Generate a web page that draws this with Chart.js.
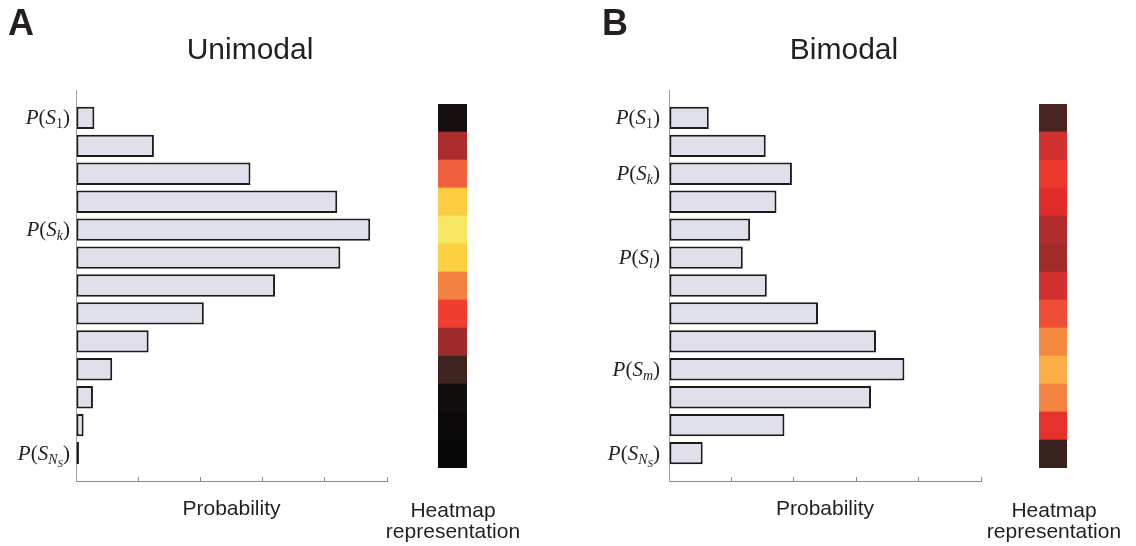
<!DOCTYPE html>
<html>
<head>
<meta charset="utf-8">
<script src="https://cdn.jsdelivr.net/npm/chart.js@4/dist/chart.umd.min.js"></script>
<style>
  html, body { margin: 0; padding: 0; background: #ffffff; }
  #wrap { position: relative; width: 1136px; height: 546px; overflow: hidden; background: #ffffff; }
  #wrap canvas { position: absolute; }
  .lbl { position: absolute; font-family: "Liberation Sans", Arial, sans-serif; color: #231f20; white-space: nowrap; }
  .panel { font-weight: bold; font-size: 36px; line-height: 36px; }
  .cap { font-size: 21px; line-height: 21px; text-align: center; width: 200px; }
</style>
</head>
<body>
<div id="wrap">
  <canvas id="barsA" width="500" height="546" style="left:0px;top:0px;"></canvas>
  <canvas id="heatA" width="29" height="364" style="left:438px;top:104px;"></canvas>
  <canvas id="barsB" width="488" height="546" style="left:600px;top:0px;"></canvas>
  <canvas id="heatB" width="28" height="364" style="left:1039px;top:104px;"></canvas>
  <div class="lbl panel" style="left:8px;top:5px;">A</div>
  <div class="lbl panel" style="left:602px;top:5px;">B</div>
  <div class="lbl cap" style="left:353px;top:499px;">Heatmap<br>representation</div>
  <div class="lbl cap" style="left:954px;top:499px;">Heatmap<br>representation</div>
</div>
<script>
// ---------- data ----------
const statesA = ['S1','S2','S3','S4','S5','S6','S7','S8','S9','S10','S11','S12','S13'];
const statesB = ['S1','S2','S3','S4','S5','S6','S7','S8','S9','S10','S11','S12','S13'];
const probA = [0.0118, 0.0501, 0.1122, 0.168, 0.1892, 0.170, 0.128, 0.0822, 0.0467, 0.0233, 0.0109, 0.0049, 0.0019];
const probB = [0.0255, 0.062, 0.0788, 0.0689, 0.052, 0.0473, 0.0627, 0.0955, 0.1327, 0.1509, 0.1295, 0.074, 0.0216];
const tickLabelsA = ['P(S_1)', '', '', '', 'P(S_k)', '', '', '', '', '', '', '', 'P(S_{N_S})'];
const tickLabelsB = ['P(S_1)', '', 'P(S_k)', '', '', 'P(S_l)', '', '', '', 'P(S_m)', '', '', 'P(S_{N_S})'];
const titleA = 'Unimodal';
const titleB = 'Bimodal';
const xTitle = 'Probability';
const probTicks = [0, 0.04, 0.08, 0.12, 0.16, 0.2];
// colormap (probability -> colour) used for the heatmap column
const heatStops = [
  [0.000, '#050506'], [0.011, '#120e0e'], [0.023, '#3e2420'], [0.047, '#a12b2c'],
  [0.062, '#d0302e'], [0.070, '#e22c2a'], [0.082, '#ef3e30'], [0.112, '#f0603d'],
  [0.130, '#f38542'], [0.151, '#fbae45'], [0.169, '#fdcf41'], [0.190, '#f7e760']
];

// ---------- helpers ----------
const SANS = '"Liberation Sans", Arial, sans-serif';
const SERIF = '"Liberation Serif", "Times New Roman", serif';
const INK = '#231f20';

function hexToRgb(h) { return [1,3,5].map(i => parseInt(h.slice(i, i + 2), 16)); }
function heatColor(p) {
  if (p <= heatStops[0][0]) return heatStops[0][1];
  for (let i = 1; i < heatStops.length; i++) {
    if (p <= heatStops[i][0]) {
      const [p0, c0] = heatStops[i - 1], [p1, c1] = heatStops[i];
      const t = (p - p0) / (p1 - p0);
      const a = hexToRgb(c0), b = hexToRgb(c1);
      const c = a.map((v, k) => Math.round(v + (b[k] - v) * t));
      return 'rgb(' + c.join(',') + ')';
    }
  }
  return heatStops[heatStops.length - 1][1];
}

function parseMath(str, level, out) {
  let i = 0;
  while (i < str.length) {
    const c = str[i];
    if (c === '_') {
      i++;
      let sub;
      if (str[i] === '{') {
        let depth = 1, j = i + 1;
        while (depth > 0 && j < str.length) {
          if (str[j] === '{') depth++;
          else if (str[j] === '}') depth--;
          j++;
        }
        sub = str.slice(i + 1, j - 1);
        i = j;
      } else { sub = str[i]; i++; }
      parseMath(sub, level + 1, out);
    } else {
      out.push({ ch: c, level: level });
      i++;
    }
  }
  return out;
}
const MATH_SIZE = [21, 14, 11];
const MATH_DY = [0, 4, 7];
function runFont(r) {
  const italic = /[A-Za-z]/.test(r.ch) ? 'italic ' : '';
  return italic + MATH_SIZE[r.level] + 'px ' + SERIF;
}

const mathTicks = {
  id: 'mathTicks',
  afterDraw(chart, args, opts) {
    const ctx = chart.ctx;
    const ys = chart.scales.y;
    ctx.save();
    ctx.fillStyle = opts.color || INK;
    ctx.textBaseline = 'alphabetic';
    ctx.textAlign = 'left';
    (opts.labels || []).forEach((lab, i) => {
      if (!lab) return;
      const runs = parseMath(lab, 0, []);
      let w = 0;
      runs.forEach(r => { ctx.font = runFont(r); r.w = ctx.measureText(r.ch).width; w += r.w; });
      let x = chart.chartArea.left - opts.gap - w;
      const base = ys.getPixelForValue(i + 1) + opts.baseline;
      runs.forEach(r => { ctx.font = runFont(r); ctx.fillText(r.ch, x, base + MATH_DY[r.level]); x += r.w; });
    });
    ctx.restore();
  }
};

function barChart(canvasId, states, probs, ticks, title, yWidth, rightPad, gap) {
  const labels = [''].concat(states, ['']);
  const data = [null].concat(probs, [null]);
  return new Chart(document.getElementById(canvasId), {
    type: 'bar',
    data: {
      labels: labels,
      datasets: [{
        data: data,
        backgroundColor: '#e0e0ec',
        borderColor: '#1c1c1c',
        borderWidth: 2,
        borderSkipped: false,
        barPercentage: 0.8,
        categoryPercentage: 1.0
      }]
    },
    options: {
      indexAxis: 'y',
      responsive: false,
      animation: false,
      devicePixelRatio: 1,
      layout: { padding: 0 },
      scales: {
        x: {
          type: 'linear',
          position: 'bottom',
          min: probTicks[0],
          max: probTicks[probTicks.length - 1],
          afterBuildTicks: s => { s.ticks = probTicks.map(v => ({ value: v })); },
          ticks: { display: false },
          grid: { display: true, drawOnChartArea: false, drawTicks: true, tickLength: -4, color: '#8a8a8a', lineWidth: 1 },
          border: { display: true, color: '#8a8a8a', width: 1 },
          title: {
            display: true, text: xTitle, color: INK,
            font: { family: SANS, size: 21 },
            padding: { top: 0, bottom: 24 }
          },
          afterFit: s => { s.height = 65; }
        },
        y: {
          type: 'category',
          position: 'left',
          offset: false,
          ticks: { display: false },
          grid: { display: false },
          border: { display: true, color: '#a0a0a0', width: 1 },
          afterFit: s => { s.width = yWidth; }
        },
        pad: {
          type: 'linear',
          position: 'right',
          display: true,
          ticks: { display: false },
          grid: { display: false },
          border: { display: false },
          afterFit: s => { s.width = rightPad; }
        }
      },
      plugins: {
        legend: { display: false },
        tooltip: { enabled: false },
        title: {
          display: true, text: title, color: INK,
          font: { family: SANS, size: 30, weight: 'normal' },
          padding: { top: 33, bottom: 21 }
        },
        mathTicks: { labels: ticks, gap: gap, baseline: 6.5, color: INK }
      }
    },
    plugins: [mathTicks]
  });
}

function heatChart(canvasId, states, probs) {
  const cellExtent = [0, 1];
  return new Chart(document.getElementById(canvasId), {
    type: 'bar',
    data: {
      labels: states,
      datasets: [{
        data: states.map(() => cellExtent),
        backgroundColor: probs.map(heatColor),
        borderWidth: 0,
        barPercentage: 1.0,
        categoryPercentage: 1.0
      }]
    },
    options: {
      indexAxis: 'y',
      responsive: false,
      animation: false,
      devicePixelRatio: 1,
      layout: { padding: 0 },
      scales: {
        x: { display: false, min: 0, max: 1 },
        y: { display: false, offset: true }
      },
      plugins: { legend: { display: false }, tooltip: { enabled: false }, title: { display: false } }
    }
  });
}

barChart('barsA', statesA, probA, tickLabelsA, titleA, 76, 113, 6);
heatChart('heatA', statesA, probA);
barChart('barsB', statesB, probB, tickLabelsB, titleB, 69, 107, 9);
heatChart('heatB', statesB, probB);
</script>
</body>
</html>
